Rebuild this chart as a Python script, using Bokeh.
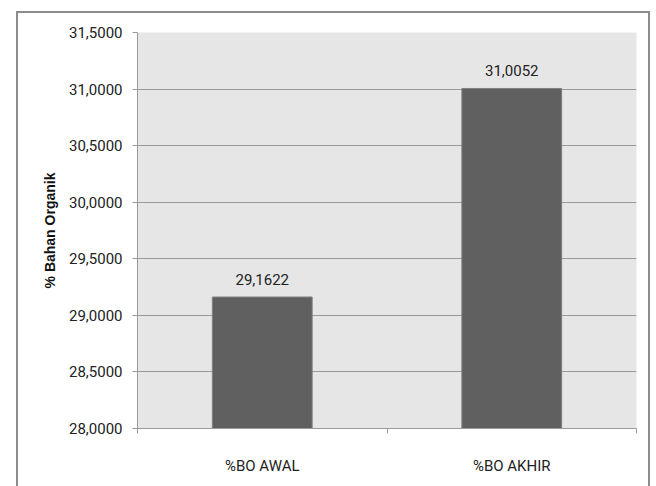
from bokeh.plotting import figure
from bokeh.models import FixedTicker, CustomJSTickFormatter, ColumnDataSource, Range1d
from bokeh.embed import file_html
from bokeh.resources import INLINE
from bokeh.core.properties import value

categories = ["%BO AWAL", "%BO AKHIR"]
values = [29.1622, 31.0052]
value_labels = ["29,1622", "31,0052"]
y_ticks = [28.0, 28.5, 29.0, 29.5, 30.0, 30.5, 31.0, 31.5]

xs = [i + 0.5 for i in range(len(categories))]
src = ColumnDataSource(dict(x=xs, top=values, lab=value_labels))

p = figure(width=634, height=475, output_backend="svg", toolbar_location=None,
           x_range=Range1d(0, len(categories)), y_range=Range1d(28.0, 31.5),
           min_border_left=119, min_border_right=16, min_border_top=19, min_border_bottom=60)
p.margin = (11, 0, 0, 16)
p.styles = {"border-top": "2px solid #8c8c8c", "border-left": "2px solid #8c8c8c",
            "border-right": "2px solid #8c8c8c", "box-sizing": "border-box"}
p.background_fill_color = "#e6e6e6"
p.border_fill_color = "white"
p.outline_line_color = None

p.vbar(x="x", top="top", bottom=28.0, width=0.4, source=src,
       fill_color="#606060", line_color="#808080", line_width=1)
p.text(x="x", y="top", text="lab", source=src, text_align="center", text_baseline="bottom",
       y_offset=-12, text_font=value("Roboto"), text_font_size="15px", text_color="#222222")

p.xgrid.grid_line_color = None
p.ygrid.grid_line_color = "#9a9a9a"
p.ygrid.ticker = FixedTicker(ticks=y_ticks)

yax = p.yaxis[0]
yax.ticker = FixedTicker(ticks=y_ticks)
yax.formatter = CustomJSTickFormatter(code="return tick.toFixed(4).replace('.', ',');")
yax.axis_line_color = "#9a9a9a"
yax.major_tick_line_color = "#9a9a9a"
yax.major_tick_out = 5
yax.major_tick_in = 0
yax.minor_tick_line_color = None
yax.major_label_text_font = "Roboto"
yax.major_label_text_font_size = "15px"
yax.major_label_text_color = "#222222"
yax.major_label_standoff = 10
yax.axis_label = "% Bahan Organik"
yax.axis_label_text_font = "Liberation Sans"
yax.axis_label_text_font_style = "bold"
yax.axis_label_text_font_size = "14px"
yax.axis_label_text_color = "#111111"
yax.axis_label_standoff = 8

xax = p.xaxis[0]
xax.ticker = FixedTicker(ticks=xs, minor_ticks=list(range(len(categories) + 1)))
xax.major_label_overrides = {x: c for x, c in zip(xs, categories)}
xax.axis_line_color = "#9a9a9a"
xax.major_tick_line_color = None
xax.minor_tick_line_color = "#9a9a9a"
xax.minor_tick_out = 5
xax.minor_tick_in = 0
xax.major_label_text_font = "Roboto"
xax.major_label_text_font_size = "15px"
xax.major_label_text_color = "#222222"
xax.major_label_standoff = 22

open("out.html", "w").write(file_html(p, INLINE))
